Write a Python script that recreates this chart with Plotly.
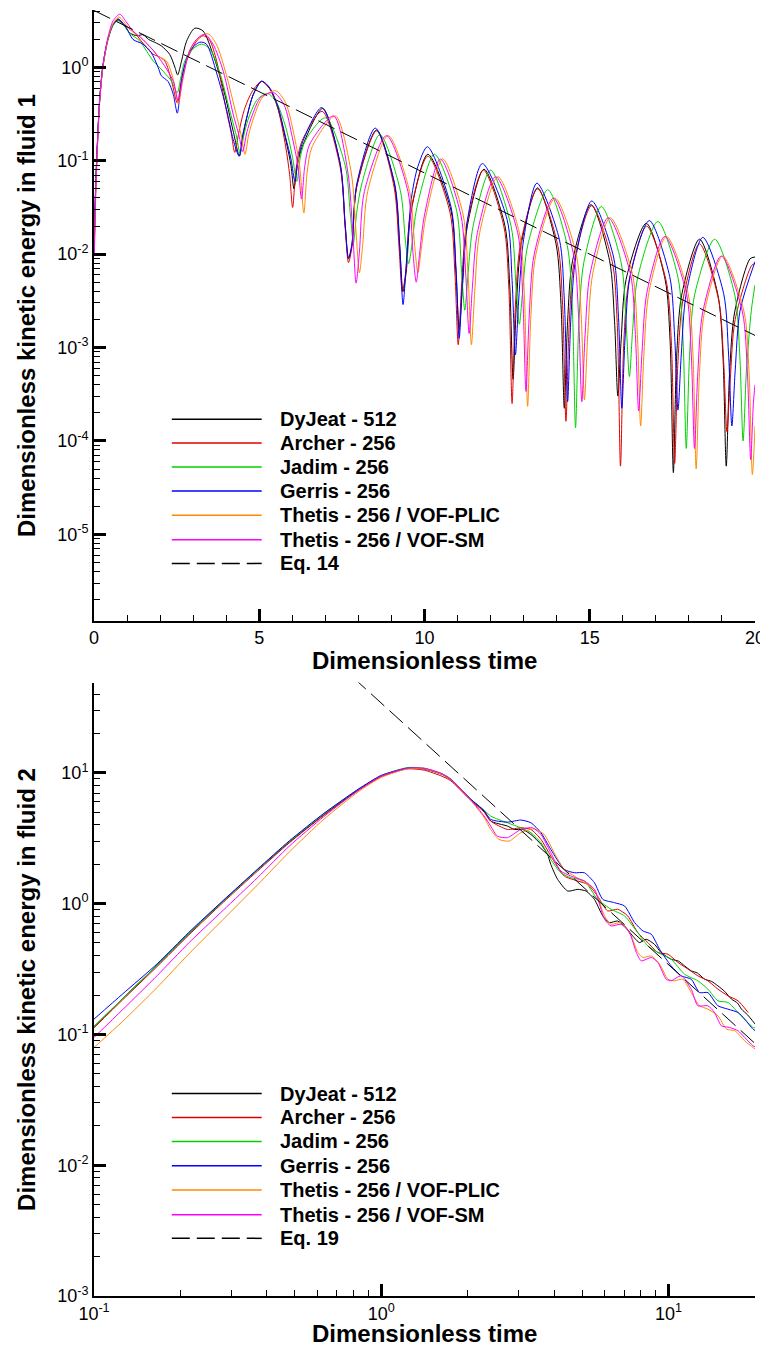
import numpy as np
import plotly.graph_objects as go

# ---------------- fluid 1 (semi-log), time t and log10(energy)
t1_dyjeat = [0.01, 0.05, 0.10, 0.17, 0.27, 0.42, 0.58, 0.73, 0.88, 1.08, 1.30, 1.48, 1.65, 1.89, 2.04, 2.29,
             2.45, 2.53, 2.65, 2.80, 3.05, 3.30, 3.60, 3.91, 4.21, 4.40, 4.50, 4.62, 4.82, 5.07, 5.30, 5.53,
             5.83, 5.96, 6.05, 6.15, 6.30, 6.92, 7.45, 7.60, 7.70, 7.80, 7.95, 8.55, 9.10, 9.25, 9.35, 9.45,
             9.60, 10.10, 10.80, 10.95, 11.05, 11.15, 11.30, 11.80, 12.43, 12.58, 12.68, 12.78, 12.93, 13.42,
             13.98, 14.13, 14.23, 14.33, 14.48, 15.04, 15.60, 15.75, 15.85, 15.95, 16.10, 16.71, 17.28, 17.43,
             17.53, 17.63, 17.78, 18.32, 18.88, 19.03, 19.13, 19.23, 19.38, 19.85, 20.0]
lg1_dyjeat = [-1.9, -1.3, -0.85, -0.36, 0.01, 0.30, 0.46, 0.52, 0.47, 0.37, 0.34, 0.35, 0.30, 0.26, 0.23, 0.14,
              0.0, -0.08, 0.07, 0.28, 0.42, 0.39, 0.14, -0.22, -0.68, -0.95, -0.75, -0.54, -0.29, -0.15, -0.22, -0.40,
              -0.82, -1.05, -1.30, -1.05, -0.85, -0.44, -1.04, -1.69, -2.05, -1.92, -1.27, -0.67, -1.27, -1.92, -2.40, -2.18,
              -1.53, -0.93, -1.53, -2.18, -2.80, -2.34, -1.69, -1.09, -1.69, -2.34, -3.34, -2.54, -1.89, -1.29,
              -1.89, -2.54, -3.65, -2.72, -2.07, -1.47, -2.07, -2.72, -3.52, -2.92, -2.27, -1.67, -2.27, -2.92,
              -4.34, -3.09, -2.44, -1.84, -2.44, -3.09, -4.27, -3.28, -2.63, -2.05, -2.03]

t1_archer = [0.01, 0.05, 0.10, 0.17, 0.27, 0.42, 0.58, 0.73, 0.90, 1.18, 1.48, 1.79, 1.94, 2.14, 2.35, 2.52,
             2.65, 2.80, 3.10, 3.30, 3.50, 3.71, 4.01, 4.15, 4.26, 4.38, 4.55, 4.80, 5.07, 5.30, 5.55, 5.80,
             5.92, 6.01, 6.11, 6.28, 6.90, 7.45, 7.60, 7.70, 7.80, 7.95, 8.55, 9.08, 9.23, 9.33, 9.43, 9.58,
             10.10, 10.77, 10.92, 11.02, 11.12, 11.27, 11.78, 12.40, 12.55, 12.65, 12.75, 12.90, 13.42, 14.03,
             14.18, 14.28, 14.38, 14.53, 15.06, 15.68, 15.83, 15.93, 16.03, 16.18, 16.72, 17.32, 17.47, 17.57,
             17.67, 17.82, 18.32, 18.90, 19.05, 19.15, 19.25, 19.40, 19.90, 20.0]
lg1_archer = [-1.85, -1.28, -0.83, -0.35, 0.02, 0.30, 0.46, 0.51, 0.46, 0.39, 0.26, 0.14, 0.12, 0.07, -0.15, -0.38,
              -0.12, 0.07, 0.28, 0.34, 0.29, 0.07, -0.47, -0.70, -0.91, -0.70, -0.45, -0.25, -0.15, -0.22, -0.42, -0.85,
              -1.15, -1.50, -1.10, -0.80, -0.47, -1.07, -1.72, -2.09, -1.93, -1.28, -0.68, -1.28, -1.93, -2.40, -2.20, -1.55,
              -0.95, -1.55, -2.20, -2.97, -2.35, -1.70, -1.10, -1.70, -2.35, -3.60, -2.55, -1.90, -1.30, -1.90,
              -2.55, -3.79, -2.73, -2.08, -1.48, -2.08, -2.73, -4.27, -2.95, -2.30, -1.70, -2.30, -2.95, -4.24,
              -3.14, -2.49, -1.89, -2.49, -3.14, -3.90, -3.35, -2.70, -2.12, -2.10]

t1_jadim = [0.01, 0.05, 0.10, 0.17, 0.27, 0.42, 0.58, 0.73, 0.90, 1.10, 1.38, 1.60, 1.79, 2.09, 2.35, 2.52,
            2.62, 2.75, 3.00, 3.25, 3.50, 3.80, 4.10, 4.30, 4.42, 4.55, 4.70, 4.95, 5.25, 5.50, 5.80, 6.00,
            6.14, 6.25, 6.40, 7.00, 7.60, 7.75, 7.85, 7.95, 8.10, 8.65, 9.27, 9.42, 9.52, 9.62, 9.77, 10.30,
            10.97, 11.12, 11.22, 11.32, 11.47, 12.00, 12.62, 12.77, 12.87, 12.97, 13.12, 13.73, 14.32, 14.47,
            14.57, 14.67, 14.82, 15.35, 15.95, 16.10, 16.20, 16.30, 16.45, 17.06, 17.67, 17.82, 17.92, 18.02,
            18.17, 18.78, 19.39, 19.54, 19.64, 19.74, 19.89, 20.0]
lg1_jadim = [-1.9, -1.3, -0.85, -0.36, 0.0, 0.29, 0.45, 0.50, 0.45, 0.36, 0.285, 0.17, 0.07, -0.04, -0.15, -0.27,
             -0.12, 0.07, 0.20, 0.25, 0.20, -0.05, -0.45, -0.72, -0.92, -0.70, -0.52, -0.34, -0.28, -0.36, -0.64, -0.95,
             -1.22, -0.95, -0.78, -0.54, -1.05, -1.55, -1.88, -1.55, -1.25, -0.72, -1.32, -1.85, -2.10, -1.90, -1.50, -0.93,
             -1.53, -2.18, -2.60, -2.20, -1.70, -1.10, -1.70, -2.35, -2.75, -2.40, -1.91, -1.31, -1.91, -2.56,
             -3.86, -2.74, -2.09, -1.49, -2.09, -2.74, -3.31, -2.80, -2.25, -1.65, -2.25, -2.90, -4.08, -3.09,
             -2.44, -1.84, -2.44, -3.09, -4.00, -3.25, -2.60, -2.33]

t1_gerris = [0.01, 0.05, 0.10, 0.17, 0.27, 0.42, 0.58, 0.73, 0.88, 0.98, 1.18, 1.48, 1.73, 1.94, 2.04, 2.24,
             2.40, 2.52, 2.62, 2.70, 2.90, 3.20, 3.40, 3.71, 4.01, 4.21, 4.39, 4.50, 4.62, 4.82, 5.07, 5.30,
             5.55, 5.80, 5.96, 6.08, 6.18, 6.33, 6.89, 7.45, 7.60, 7.70, 7.80, 7.95, 8.51, 9.10, 9.25, 9.35,
             9.45, 9.60, 9.80, 10.09, 10.80, 10.95, 11.05, 11.15, 11.30, 11.75, 12.50, 12.65, 12.75, 12.85,
             13.00, 13.40, 14.08, 14.23, 14.33, 14.43, 14.58, 15.06, 15.72, 15.87, 15.97, 16.07, 16.22, 16.80,
             17.42, 17.57, 17.67, 17.77, 17.92, 18.42, 19.05, 19.20, 19.30, 19.40, 19.55, 20.0]
lg1_gerris = [-1.85, -1.28, -0.83, -0.35, 0.02, 0.30, 0.46, 0.51, 0.47, 0.425, 0.30, 0.25, 0.16, 0.0, -0.09, -0.15,
              -0.29, -0.49, -0.22, -0.04, 0.175, 0.27, 0.25, -0.06, -0.45, -0.77, -0.95, -0.72, -0.54, -0.29, -0.147, -0.21,
              -0.40, -0.75, -0.98, -1.22, -0.98, -0.78, -0.43, -1.03, -1.68, -2.04, -1.90, -1.25, -0.65, -1.25, -1.90, -2.54,
              -2.10, -1.41, -1.06, -0.85, -1.49, -2.13, -2.90, -2.28, -1.63, -1.03, -1.63, -2.28, -3.08, -2.49,
              -1.84, -1.24, -1.84, -2.49, -3.58, -2.68, -2.03, -1.43, -2.03, -2.68, -3.65, -2.89, -2.24, -1.64,
              -2.24, -2.89, -3.67, -3.07, -2.42, -1.82, -2.42, -3.07, -3.84, -3.25, -2.60, -2.08]

t1_plic = [0.01, 0.05, 0.10, 0.17, 0.27, 0.42, 0.58, 0.75, 0.90, 1.10, 1.38, 1.60, 1.78, 1.94, 2.19, 2.40,
           2.55, 2.68, 2.90, 3.20, 3.45, 3.70, 4.00, 4.30, 4.45, 4.57, 4.68, 4.85, 5.10, 5.50, 5.80, 6.05,
           6.22, 6.35, 6.45, 6.60, 7.30, 7.78, 7.93, 8.03, 8.13, 8.28, 8.90, 9.55, 9.70, 9.80, 9.90, 10.05,
           10.55, 11.17, 11.32, 11.42, 11.52, 11.67, 12.22, 12.87, 13.02, 13.12, 13.22, 13.37, 13.95, 14.59,
           14.74, 14.84, 14.94, 15.09, 15.62, 16.29, 16.44, 16.54, 16.64, 16.79, 17.32, 17.97, 18.12, 18.22,
           18.32, 18.47, 19.02, 19.67, 19.82, 19.92, 20.0]
lg1_plic = [-2.0, -1.4, -0.9, -0.38, 0.0, 0.30, 0.47, 0.54, 0.49, 0.40, 0.33, 0.25, 0.19, 0.12, 0.07, -0.13,
            -0.39, -0.15, 0.19, 0.33, 0.36, 0.25, -0.075, -0.50, -0.72, -0.93, -0.72, -0.52, -0.32, -0.25, -0.38, -0.72,
            -1.05, -1.56, -1.12, -0.85, -0.52, -1.12, -1.77, -2.20, -1.90, -1.33, -0.73, -1.33, -1.90, -2.20, -1.95, -1.58,
            -0.98, -1.58, -2.23, -2.97, -2.40, -1.77, -1.17, -1.77, -2.42, -3.63, -2.65, -2.00, -1.40, -2.00,
            -2.65, -3.56, -2.86, -2.21, -1.61, -2.21, -2.86, -3.84, -3.06, -2.41, -1.81, -2.41, -3.06, -4.30,
            -3.27, -2.62, -2.02, -2.62, -3.27, -4.36, -3.84]

t1_sm = [0.01, 0.05, 0.10, 0.17, 0.27, 0.42, 0.58, 0.78, 0.95, 1.18, 1.48, 1.89, 2.20, 2.40, 2.55, 2.68,
         2.90, 3.10, 3.35, 3.60, 3.91, 4.21, 4.38, 4.50, 4.62, 4.80, 5.05, 5.43, 5.75, 6.00, 6.17, 6.28,
         6.38, 6.53, 7.25, 7.68, 7.83, 7.93, 8.03, 8.18, 8.85, 9.50, 9.65, 9.75, 9.85, 10.00, 10.48, 11.10,
         11.25, 11.35, 11.45, 11.60, 12.15, 12.82, 12.97, 13.07, 13.17, 13.32, 13.90, 14.51, 14.66, 14.76,
         14.86, 15.01, 15.56, 16.23, 16.38, 16.48, 16.58, 16.73, 17.27, 17.92, 18.07, 18.17, 18.27, 18.42,
         18.98, 19.62, 19.77, 19.87, 19.95, 20.0]
lg1_sm = [-2.0, -1.38, -0.88, -0.37, 0.02, 0.32, 0.50, 0.57, 0.50, 0.39, 0.30, 0.14, -0.02, -0.15, -0.36, -0.12,
          0.18, 0.30, 0.355, 0.25, -0.04, -0.50, -0.72, -0.90, -0.70, -0.50, -0.32, -0.27, -0.40, -0.75, -1.05, -1.41,
          -1.05, -0.82, -0.52, -1.12, -1.77, -2.31, -1.98, -1.33, -0.73, -1.33, -1.98, -2.30, -2.00, -1.58, -0.98, -1.58,
          -2.23, -2.85, -2.35, -1.77, -1.17, -1.77, -2.42, -3.47, -2.65, -2.00, -1.40, -2.00, -2.65, -3.58,
          -2.86, -2.21, -1.61, -2.21, -2.86, -3.68, -3.06, -2.41, -1.81, -2.41, -3.06, -4.08, -3.27, -2.62,
          -2.02, -2.62, -3.27, -4.20, -3.60, -3.40]

t1_eq14 = [0.0, 20.0]
lg1_eq14 = [0.61, -2.87]

# ---------------- fluid 2 (log-log), log10(time) and log10(energy)
lt2_dyjeat = [-1.0, -0.9, -0.78, -0.67, -0.55, -0.43, -0.32, -0.2, -0.08, 0.0, 0.09, 0.15, 0.21, 0.2415, 0.311,
              0.358, 0.381, 0.439, 0.463, 0.492, 0.521, 0.556, 0.579, 0.590, 0.614, 0.649, 0.684, 0.713, 0.742,
              0.771, 0.794, 0.823, 0.847, 0.875, 0.899, 0.922, 0.951, 0.974, 1.009, 1.035, 1.056, 1.079, 1.10,
              1.126, 1.15, 1.172, 1.195, 1.219, 1.24, 1.254, 1.275, 1.301]
lg2_dyjeat = [-0.94, -0.725, -0.47, -0.23, 0.02, 0.26, 0.47, 0.68, 0.87, 0.975, 1.035, 1.03, 0.99, 0.949, 0.796,
              0.707, 0.631, 0.593, 0.567, 0.567, 0.529, 0.453, 0.376, 0.30, 0.185, 0.096, 0.109, 0.096, 0.033,
              -0.094, -0.145, -0.133, -0.171, -0.247, -0.298, -0.272, -0.311, -0.374, -0.425, -0.44, -0.476, -0.514, -0.53,
              -0.578, -0.595, -0.629, -0.67, -0.73, -0.76, -0.807, -0.85, -0.92]

lt2_archer = [-1.0, -0.9, -0.78, -0.67, -0.55, -0.43, -0.32, -0.2, -0.08, 0.0, 0.09, 0.15, 0.21, 0.2415, 0.311,
              0.358, 0.381, 0.439, 0.486, 0.521, 0.556, 0.59, 0.637, 0.684, 0.719, 0.753, 0.788, 0.823, 0.858,
              0.893, 0.928, 0.963, 0.998, 1.033, 1.068, 1.102, 1.137, 1.172, 1.207, 1.242, 1.277]
lg2_archer = [-0.95, -0.735, -0.48, -0.24, 0.01, 0.25, 0.465, 0.675, 0.865, 0.97, 1.03, 1.02, 0.975, 0.94, 0.79,
              0.70, 0.631, 0.567, 0.58, 0.567, 0.491, 0.364, 0.211, 0.173, 0.147, 0.058, -0.056, -0.043, -0.094,
              -0.222, -0.298, -0.374, -0.387, -0.45, -0.501, -0.552, -0.59, -0.654, -0.705, -0.743, -0.832]

lt2_jadim = [-1.0, -0.9, -0.78, -0.67, -0.55, -0.43, -0.32, -0.2, -0.08, 0.0, 0.09, 0.15, 0.21, 0.2415, 0.311,
             0.358, 0.381, 0.439, 0.486, 0.521, 0.556, 0.59, 0.625, 0.66, 0.707, 0.753, 0.80, 0.847, 0.893,
             0.928, 0.963, 1.009, 1.056, 1.102, 1.137, 1.172, 1.207, 1.242, 1.294, 1.301]
lg2_jadim = [-0.94, -0.725, -0.47, -0.23, 0.02, 0.26, 0.475, 0.685, 0.875, 0.98, 1.04, 1.035, 0.995, 0.955, 0.80,
             0.715, 0.669, 0.618, 0.58, 0.542, 0.466, 0.338, 0.236, 0.198, 0.173, 0.033, -0.043, -0.094, -0.222,
             -0.323, -0.374, -0.425, -0.54, -0.59, -0.654, -0.743, -0.756, -0.832, -0.947, -0.95]

lt2_gerris = [-1.0, -0.9, -0.78, -0.67, -0.55, -0.43, -0.32, -0.2, -0.08, 0.0, 0.09, 0.15, 0.21, 0.2415, 0.311,
              0.358, 0.381, 0.439, 0.486, 0.521, 0.556, 0.59, 0.637, 0.672, 0.707, 0.742, 0.771, 0.812, 0.847,
              0.882, 0.911, 0.94, 0.969, 1.009, 1.044, 1.079, 1.108, 1.137, 1.172, 1.207, 1.242, 1.265, 1.294, 1.301]
lg2_gerris = [-0.883, -0.69, -0.46, -0.22, 0.025, 0.265, 0.48, 0.69, 0.875, 0.98, 1.035, 1.03, 0.99, 0.95, 0.80,
              0.71, 0.644, 0.623, 0.639, 0.618, 0.542, 0.415, 0.262, 0.236, 0.236, 0.16, 0.033, 0.007, -0.018,
              -0.145, -0.209, -0.234, -0.349, -0.476, -0.552, -0.578, -0.68, -0.68, -0.781, -0.807, -0.832, -0.883, -0.96, -0.97]

lt2_plic = [-1.0, -0.9, -0.78, -0.67, -0.55, -0.43, -0.32, -0.2, -0.08, 0.0, 0.09, 0.15, 0.21, 0.2415, 0.311,
            0.358, 0.381, 0.41, 0.445, 0.486, 0.532, 0.567, 0.602, 0.637, 0.672, 0.707, 0.742, 0.777, 0.80,
            0.835, 0.87, 0.893, 0.911, 0.94, 0.969, 0.998, 1.021, 1.05, 1.079, 1.108, 1.137, 1.172, 1.202,
            1.231, 1.265, 1.294, 1.301]
lg2_plic = [-1.10, -0.90, -0.64, -0.385, -0.12, 0.145, 0.395, 0.645, 0.855, 0.965, 1.03, 1.03, 0.99, 0.95, 0.79,
            0.66, 0.567, 0.491, 0.478, 0.542, 0.572, 0.529, 0.389, 0.262, 0.211, 0.16, 0.109, -0.094, -0.158,
            -0.145, -0.247, -0.374, -0.412, -0.40, -0.463, -0.578, -0.59, -0.578, -0.68, -0.781, -0.807, -0.858, -0.96,
            -0.972, -1.049, -1.10, -1.11]

lt2_sm = [-1.0, -0.9, -0.78, -0.67, -0.55, -0.43, -0.32, -0.2, -0.08, 0.0, 0.09, 0.15, 0.21, 0.2415, 0.311,
          0.358, 0.381, 0.404, 0.439, 0.486, 0.527, 0.556, 0.59, 0.625, 0.66, 0.707, 0.742, 0.777, 0.80,
          0.835, 0.864, 0.888, 0.905, 0.94, 0.963, 0.992, 1.009, 1.044, 1.079, 1.102, 1.137, 1.16, 1.184,
          1.213, 1.242, 1.265, 1.294, 1.301]
lg2_sm = [-1.023, -0.81, -0.55, -0.30, -0.05, 0.20, 0.44, 0.665, 0.865, 0.975, 1.035, 1.035, 0.995, 0.952, 0.795,
          0.67, 0.593, 0.516, 0.504, 0.567, 0.58, 0.529, 0.389, 0.249, 0.211, 0.173, 0.109, -0.12, -0.171,
          -0.158, -0.222, -0.374, -0.438, -0.412, -0.45, -0.578, -0.59, -0.552, -0.654, -0.781, -0.781, -0.832, -0.934,
          -0.947, -0.972, -1.023, -1.087, -1.095]

lt2_eq19 = [-0.1, 1.301]
lg2_eq19 = [1.733, -1.069]

names = ["DyJeat - 512", "Archer - 256", "Jadim - 256", "Gerris - 256",
         "Thetis - 256 / VOF-PLIC", "Thetis - 256 / VOF-SM"]
colors = ["#000000", "#e00000", "#00d200", "#0000ff", "#ff8a00", "#ff00ff"]

fluid1 = [(t1_dyjeat, lg1_dyjeat), (t1_archer, lg1_archer), (t1_jadim, lg1_jadim),
          (t1_gerris, lg1_gerris), (t1_plic, lg1_plic), (t1_sm, lg1_sm)]
fluid2 = [(lt2_dyjeat, lg2_dyjeat), (lt2_archer, lg2_archer), (lt2_jadim, lg2_jadim),
          (lt2_gerris, lg2_gerris), (lt2_plic, lg2_plic), (lt2_sm, lg2_sm)]

DASH = "18px,7px"
FONT = "Liberation Sans, Arial, sans-serif"

fig = go.Figure()

for (t, lg), name, col in zip(fluid1, names, colors):
    fig.add_trace(go.Scatter(x=t, y=10 ** np.array(lg), mode="lines", name=name,
                             line=dict(color=col, width=1, shape="spline", smoothing=0.8),
                             xaxis="x", yaxis="y", showlegend=False))
fig.add_trace(go.Scatter(x=t1_eq14, y=10 ** np.array(lg1_eq14), mode="lines", name="Eq. 14",
                         line=dict(color="black", width=1, dash=DASH),
                         xaxis="x", yaxis="y", showlegend=False))

for (lt, lg), name, col in zip(fluid2, names, colors):
    fig.add_trace(go.Scatter(x=10 ** np.array(lt), y=10 ** np.array(lg), mode="lines", name=name,
                             line=dict(color=col, width=1, shape="spline", smoothing=0.6),
                             xaxis="x2", yaxis="y2", showlegend=False))
fig.add_trace(go.Scatter(x=10 ** np.array(lt2_eq19), y=10 ** np.array(lg2_eq19), mode="lines", name="Eq. 19",
                         line=dict(color="black", width=1, dash=DASH),
                         xaxis="x2", yaxis="y2", showlegend=False))


def pow_labels(exps):
    return [10.0 ** e for e in exps], ["10<sup>%d</sup>" % e for e in exps]


def minor_vals(lo, hi):
    return [k * 10.0 ** p for p in range(lo, hi) for k in range(2, 10)]


axis_common = dict(showline=True, linewidth=2, linecolor="black", mirror=False,
                   ticks="inside", ticklen=12, tickwidth=2.5, tickcolor="black",
                   showgrid=False, zeroline=False, automargin=False,
                   tickfont=dict(family=FONT, size=18, color="black"))
minor_common = dict(ticks="inside", ticklen=6, tickwidth=1.2, tickcolor="black", showgrid=False)
title_font = dict(family=FONT, size=24, color="black")

y1v, y1t = pow_labels(range(-5, 1))
y2v, y2t = pow_labels(range(-3, 2))
x2v, x2t = pow_labels(range(-1, 2))

# the page body adds 8px on the top and left, so the figure is made 8px smaller
fig.update_layout(
    width=760, height=1339,
    margin=dict(l=86, r=13, t=2, b=51),
    paper_bgcolor="white", plot_bgcolor="white",
    font=dict(family=FONT, color="black"),
    xaxis=dict(axis_common, domain=[0, 1], anchor="y", range=[0, 20], dtick=5,
               minor=dict(minor_common, dtick=1)),
    yaxis=dict(axis_common, domain=[0.525, 1.0], anchor="x", type="log", range=[-5.927, 0.615],
               tickmode="array", tickvals=y1v, ticktext=y1t,
               minor=dict(minor_common, tickmode="array", tickvals=minor_vals(-6, 1))),
    xaxis2=dict(axis_common, domain=[0, 1], anchor="y2", type="log", range=[-1, np.log10(20)],
                tickmode="array", tickvals=x2v, ticktext=x2t,
                minor=dict(minor_common, tickmode="array", tickvals=minor_vals(-1, 2))),
    yaxis2=dict(axis_common, domain=[0.0, 0.477], anchor="x2", type="log", range=[-3, 1.69],
                tickmode="array", tickvals=y2v, ticktext=y2t,
                minor=dict(minor_common, tickmode="array", tickvals=minor_vals(-3, 2))),
)

# axis titles placed like the Tecplot original
for x, y, ang, txt in [(0.5, 0.4945, 0, "Dimensionless time"),
                       (0.5, -0.0292, 0, "Dimensionless time"),
                       (-0.1019, 0.7625, -90, "Dimensionless kinetic energy in fluid 1"),
                       (-0.1019, 0.2385, -90, "Dimensionless kinetic energy in fluid 2")]:
    fig.add_annotation(xref="paper", yref="paper", x=x, y=y, text="<b>%s</b>" % txt,
                       textangle=ang, showarrow=False, xanchor="center", yanchor="middle",
                       font=title_font)

# hand-drawn legends, Tecplot style, inside each frame
rows = [0.330, 0.291, 0.252, 0.2125, 0.173, 0.1326, 0.094]
for xa, ya, eq in [("x", "y", "Eq. 14"), ("x2", "y2", "Eq. 19")]:
    labels = names + [eq]
    for i, (lab, yy) in enumerate(zip(labels, rows)):
        col = colors[i] if i < len(colors) else "black"
        fig.add_shape(type="line", xref=xa + " domain", yref=ya + " domain",
                      x0=0.1177, x1=0.2537, y0=yy, y1=yy,
                      line=dict(color=col, width=1.5, dash=DASH if i == 6 else "solid"))
        fig.add_annotation(xref=xa + " domain", yref=ya + " domain", x=0.278, y=yy,
                           text="<b>%s</b>" % lab, showarrow=False, xanchor="left", yanchor="middle",
                           font=dict(family=FONT, size=20, color="black"))

fig.write_html("out.html")
